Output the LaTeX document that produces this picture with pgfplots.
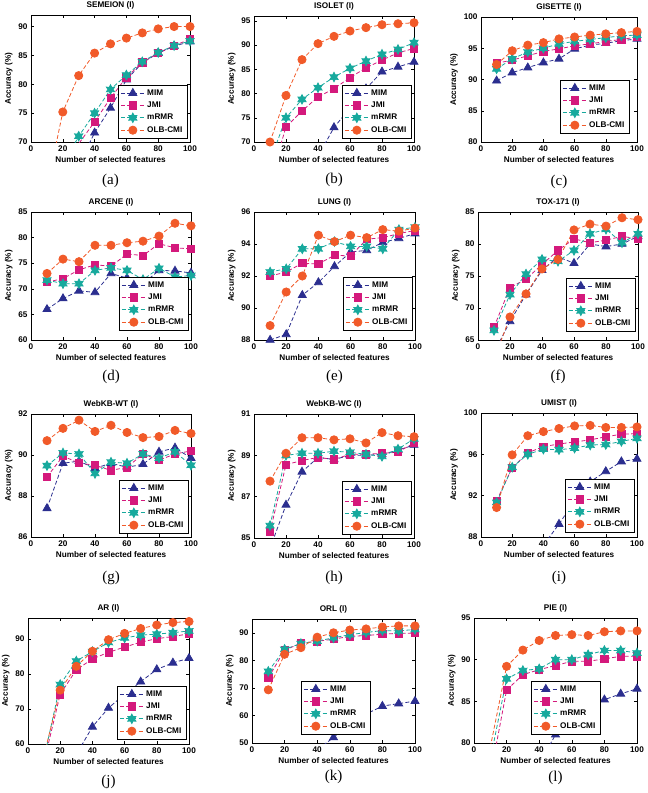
\documentclass[border=0pt]{standalone}
\usepackage{fontspec}
\setmainfont{Liberation Serif}
\setsansfont{Liberation Sans}
\usepackage{pgfplots}
\usepackage{pgfplotstable}
\pgfplotsset{compat=1.18}

\definecolor{mimc}{HTML}{2B2E8F}
\definecolor{jmic}{HTML}{D4197C}
\definecolor{mrmrc}{HTML}{17A99D}
\definecolor{olbc}{HTML}{F15A29}

% filled six-point star (MATLAB hexagram)
\pgfdeclareplotmark{hexstar}{%
  \pgfpathmoveto{\pgfpointpolar{90}{\pgfplotmarksize}}%
  \pgfpathlineto{\pgfpointpolar{120}{0.55*\pgfplotmarksize}}%
  \pgfpathlineto{\pgfpointpolar{150}{\pgfplotmarksize}}%
  \pgfpathlineto{\pgfpointpolar{180}{0.55*\pgfplotmarksize}}%
  \pgfpathlineto{\pgfpointpolar{210}{\pgfplotmarksize}}%
  \pgfpathlineto{\pgfpointpolar{240}{0.55*\pgfplotmarksize}}%
  \pgfpathlineto{\pgfpointpolar{270}{\pgfplotmarksize}}%
  \pgfpathlineto{\pgfpointpolar{300}{0.55*\pgfplotmarksize}}%
  \pgfpathlineto{\pgfpointpolar{330}{\pgfplotmarksize}}%
  \pgfpathlineto{\pgfpointpolar{0}{0.55*\pgfplotmarksize}}%
  \pgfpathlineto{\pgfpointpolar{30}{\pgfplotmarksize}}%
  \pgfpathlineto{\pgfpointpolar{60}{0.55*\pgfplotmarksize}}%
  \pgfpathclose
  \pgfusepathqfillstroke
}

\newcommand\axfont{\sffamily\bfseries\fontsize{8.2}{9.5}\selectfont}
\tikzset{sublabel/.style={font=\fontsize{15}{16}\selectfont}}

\pgfplotsset{
  panel/.style={
    scale only axis, anchor=north west,
    xmin=0, xmax=100, xtick={0,20,40,60,80,100},
    tick align=inside, major tick length=3pt,
    tick style={black,line width=0.4pt},
    axis line style={line width=0.5pt},
    tick label style={font=\axfont},
    label style={font=\axfont},
    title style={font=\axfont, yshift=-3.5pt},
    xlabel={Number of selected features},
    ylabel={Accuracy (\%)},
    xlabel style={yshift=2pt},
    ylabel style={yshift=-1pt},
    /pgf/number format/assume math mode=true,
    legend style={at={(1,0)}, anchor=south east, xshift=-3pt, yshift=4pt,
      font=\axfont, draw=black, line width=0.4pt, fill=white,
      inner xsep=2.5pt, inner ysep=2pt, row sep=1.2pt},
    legend cell align=left,
    legend image code/.code={\draw[mark repeat=2,mark phase=2]
      plot coordinates {(0pt,0pt)(12pt,0pt)(24pt,0pt)};},
    cycle list={
      {mimc, mark=triangle*, mark size=4.6pt, mark options={solid}},
      {jmic, mark=square*, mark size=3.6pt, mark options={solid}},
      {mrmrc, mark=hexstar, mark size=4.7pt, mark options={solid}},
      {olbc, mark=*, mark size=4.1pt, mark options={solid}}},
    every axis plot/.append style={line width=0.8pt, dash pattern=on 4pt off 2.3pt},
  },
}

\newcommand\series[1]{%
  \addplot table[x=n,y=mim]{#1};
  \addplot table[x=n,y=jmi]{#1};
  \addplot table[x=n,y=mrmr]{#1};
  \addplot table[x=n,y=olb]{#1};
  \legend{MIM,JMI,mRMR,OLB-CMI}}

\pgfplotstableread{
n mim jmi mrmr olb
10 55 58 60 62
20 60 64 66 75.2
30 66 69.7 71.0 81.5
40 71.6 73.5 75.0 85.4
50 75.9 77.6 79.1 87.0
60 80.8 81.2 81.6 88.0
70 83.7 83.8 83.9 88.9
80 85.4 85.4 85.5 89.6
90 86.6 86.7 86.7 90.0
100 87.4 87.8 87.5 90.0
}\tabA
\pgfplotstableread{
n mim jmi mrmr olb
10 52 62 66 70.0
20 58 73.1 75.0 79.6
30 63 76.4 78.8 87.0
40 67 79.3 81.2 90.3
50 73.0 81.0 83.4 91.8
60 77 83.3 85.2 92.9
70 81 85.3 86.7 93.6
80 84.5 86.9 88.1 94.2
90 85.5 88.4 89.1 94.4
100 86.5 89.3 90.5 94.6
}\tabB
\pgfplotstableread{
n mim jmi mrmr olb
10 89.8 92.6 91.7 92.4
20 91.1 93.1 93.3 94.6
30 91.9 93.8 94.4 95.5
40 92.7 94.5 95.0 95.9
50 93.3 94.9 95.7 96.5
60 94.9 95.4 96.1 96.8
70 95.5 95.7 96.4 97.1
80 95.8 96.1 96.7 97.3
90 96.2 96.4 97.0 97.5
100 96.5 96.8 97.1 97.7
}\tabC
\pgfplotstableread{
n mim jmi mrmr olb
10 66.0 71.3 71.7 73.0
20 68.1 72.0 71.0 75.8
30 69.6 73.7 71.0 75.3
40 69.3 74.7 73.6 78.5
50 73.0 74.4 74.1 78.5
60 72.1 76.8 73.6 79.0
70 71.0 76.5 71.8 79.3
80 73.6 78.8 74.0 80.3
90 73.5 78.0 72.3 82.8
100 73.1 77.8 72.6 82.3
}\tabD
\pgfplotstableread{
n mim jmi mrmr olb
10 88.0 92.0 92.25 88.9
20 88.35 92.25 92.45 91.0
30 90.8 92.8 93.7 92.0
40 91.6 92.75 93.7 94.55
50 92.6 93.3 94.15 94.15
60 93.5 93.25 93.85 94.55
70 93.6 94.3 93.85 94.4
80 94.1 94.4 93.7 94.9
90 94.35 94.65 94.9 94.8
100 94.65 94.85 95.05 95.0
}\tabE
\pgfplotstableread{
n mim jmi mrmr olb
10 63 67.0 66.5 62
20 67.9 73.2 72.1 68.6
30 72.1 74.5 75.3 72.2
40 75.9 76.8 77.6 76.1
50 78.0 79.0 77.3 77.6
60 77.0 80.8 79.0 82.2
70 80.0 80.2 81.6 83.1
80 79.6 80.6 82.3 82.8
90 80.0 81.2 80.2 84.1
100 81.2 80.8 81.6 83.8
}\tabF
\pgfplotstableread{
n mim jmi mrmr olb
10 87.4 88.93 89.48 90.7
20 89.6 89.95 90.1 91.3
30 89.7 89.6 90.05 91.7
40 89.35 89.5 89.1 91.15
50 89.6 89.25 89.65 91.45
60 89.4 89.4 89.6 91.1
70 89.55 90.05 90.05 90.85
80 90.15 89.75 89.85 90.9
90 90.35 90.05 90.15 91.2
100 89.85 90.2 89.5 91.05
}\tabG
\pgfplotstableread{
n mim jmi mrmr olb
10 84.5 85.3 85.6 87.75
20 86.6 88.55 89.0 89.1
30 88.2 88.75 89.1 89.85
40 88.9 88.9 89.1 89.85
50 88.8 88.8 89.2 89.75
60 89.0 89.05 89.15 89.8
70 89.0 89.05 89.05 89.6
80 89.05 89.1 88.95 90.1
90 89.25 89.15 89.3 89.95
100 89.5 89.6 89.8 89.9
}\tabH
\pgfplotstableread{
n mim jmi mrmr olb
10 78 91.5 91.35 90.85
20 81 94.7 94.75 95.95
30 84 96.15 96.0 97.8
40 87.2 96.75 96.5 98.2
50 89.25 97.0 96.45 98.5
60 91.5 97.2 96.6 98.75
70 93.35 97.4 96.9 98.8
80 94.35 97.7 96.95 98.6
90 95.3 97.95 97.25 98.6
100 95.55 98.0 97.55 98.65
}\tabI
\pgfplotstableread{
n mim jmi mrmr olb
10 45 55 56 57
20 50 74.2 77.0 75.4
30 57 81.2 83.7 82.2
40 64.9 84.3 86.4 86.5
50 70.3 86.2 89.0 89.8
60 74.2 87.7 90.3 91.6
70 77.8 89.1 91.1 93.0
80 81.3 90.1 91.4 94.0
90 83.2 90.7 91.8 94.7
100 84.5 91.5 92.3 95.0
}\tabJ
\pgfplotstableread{
n mim jmi mrmr olb
10 38 73.6 76.0 69.3
20 41 83.7 84.0 82.2
30 44 86.2 86.1 84.6
40 47.5 86.9 87.0 88.4
50 52 87.7 88.2 90.0
60 56.5 88.7 89.3 91.0
70 60.5 89.0 90.1 91.4
80 63.4 89.5 90.8 92.1
90 64.3 89.8 90.7 92.5
100 65.2 89.9 91.2 92.5
}\tabK
\pgfplotstableread{
n mim jmi mrmr olb
10 70 76 78 79.5
20 73 86.35 87.7 89.2
30 75 88.2 88.7 91.15
40 77.5 88.8 88.9 92.3
50 81 89.3 90.0 92.9
60 83 89.8 90.0 93.0
70 84.3 89.8 90.6 92.9
80 85.2 90.1 91.1 93.35
90 85.9 90.4 91.1 93.45
100 86.5 90.4 90.8 93.45
}\tabL

\begin{document}
\begin{tikzpicture}
\useasboundingbox (0,0) rectangle (648pt,-793pt);

% row 1
\begin{axis}[panel, name=pa, at={(31pt,-15pt)}, width=159pt, height=127pt,
  ymin=70, ymax=92, ytick={70,75,80,85,90}, title={SEMEION (I)}]
\series{\tabA}
\end{axis}
\node[sublabel] at ([yshift=-39pt]pa.south) {(a)};

\begin{axis}[panel, name=pb, at={(254pt,-16pt)}, width=160pt, height=126pt,
  ymin=70, ymax=96, ytick={70,75,80,85,90,95}, title={ISOLET (I)}]
\series{\tabB}
\end{axis}
\node[sublabel] at ([yshift=-38pt]pb.south) {(b)};

\begin{axis}[panel, name=pc, at={(481pt,-17pt)}, width=156pt, height=125pt,
  ymin=80, ymax=100, ytick={80,85,90,95,100}, title={GISETTE (I)},
  legend style={xshift=-5pt, yshift=5pt}]
\series{\tabC}
\end{axis}
\node[sublabel] at ([yshift=-40pt]pc.south) {(c)};

% row 2
\begin{axis}[panel, name=pd, at={(31pt,-212pt)}, width=160pt, height=128pt,
  ymin=60, ymax=85, ytick={60,65,70,75,80,85}, title={ARCENE (I)},
  legend style={yshift=6pt}]
\series{\tabD}
\end{axis}
\node[sublabel] at ([yshift=-37pt]pd.south) {(d)};

\begin{axis}[panel, name=pe, at={(254pt,-212pt)}, width=161pt, height=128pt,
  ymin=88, ymax=96, ytick={88,90,92,94,96}, title={LUNG (I)},
  legend style={yshift=6pt}]
\series{\tabE}
\end{axis}
\node[sublabel] at ([yshift=-37pt]pe.south) {(e)};

\begin{axis}[panel, name=pf, at={(478pt,-212pt)}, width=160pt, height=128pt,
  ymin=65, ymax=85, ytick={65,70,75,80,85}, title={TOX-171 (I)},
  legend style={yshift=5pt}]
\series{\tabF}
\end{axis}
\node[sublabel] at ([yshift=-37pt]pf.south) {(f)};

% row 3
\begin{axis}[panel, name=pg, at={(31pt,-414pt)}, width=160pt, height=123pt,
  ymin=86, ymax=92, ytick={86,88,90,92}, title={WebKB-WT (I)}]
\series{\tabG}
\end{axis}
\node[sublabel] at ([yshift=-41pt]pg.south) {(g)};

\begin{axis}[panel, name=ph, at={(254pt,-414pt)}, width=160pt, height=124pt,
  ymin=85, ymax=91, ytick={85,87,89,91}, title={WebKB-WC (I)}]
\series{\tabH}
\end{axis}
\node[sublabel] at ([yshift=-40pt]ph.south) {(h)};

\begin{axis}[panel, name=pi, at={(481pt,-413pt)}, width=156pt, height=124pt,
  ymin=88, ymax=100, ytick={88,92,96,100}, title={UMIST (I)},
  legend style={yshift=1pt}]
\series{\tabI}
\end{axis}
\node[sublabel] at ([yshift=-41pt]pi.south) {(i)};

% row 4
\begin{axis}[panel, name=pj, at={(28pt,-618pt)}, width=161pt, height=126pt,
  ymin=60, ymax=96, ytick={60,70,80,90}, title={AR (I)},
  legend style={yshift=1pt}]
\series{\tabJ}
\end{axis}
\node[sublabel] at ([yshift=-38pt]pj.south) {(j)};

\begin{axis}[panel, name=pk, at={(252pt,-619pt)}, width=163pt, height=124pt,
  ymin=50, ymax=95, ytick={50,60,70,80,90}, title={ORL (I)},
  legend style={xshift=-42pt, yshift=5pt}]
\series{\tabK}
\end{axis}
\node[sublabel] at ([yshift=-34pt]pk.south) {(k)};

\begin{axis}[panel, name=pl, at={(474pt,-618pt)}, width=163pt, height=125pt,
  ymin=80, ymax=95, ytick={80,85,90,95}, title={PIE (I)},
  legend style={xshift=-34pt, yshift=5pt}]
\series{\tabL}
\end{axis}
\node[sublabel] at ([yshift=-35pt]pl.south) {(l)};
\end{tikzpicture}
\end{document}
